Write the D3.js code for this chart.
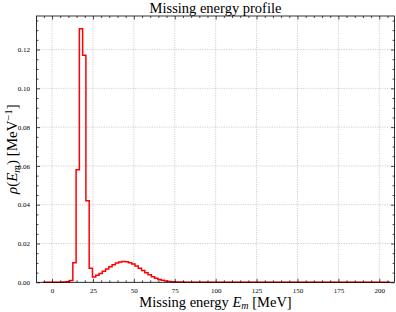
<!DOCTYPE html>
<html><head><meta charset="utf-8">
<script src="https://cdn.jsdelivr.net/npm/d3@7"></script>
<style>
html,body{margin:0;padding:0;background:#fff;}
svg{display:block;font-family:"Liberation Serif","DejaVu Serif",serif;}
</style></head>
<body>
<svg id="chart" width="396" height="312"></svg>
<script>
// ---- data ----
const binStart = -5.3;     // left edge of first bin (MeV)
const binWidth = 2;        // MeV
const density = [
  0, 0, 0, 0, 0, 0, 0.0001, 0.0003, 0.0009, 0.0101,
  0.058, 0.1307, 0.117, 0.042, 0.0073, 0.0027, 0.0036, 0.0046, 0.0057, 0.0069,
  0.0080, 0.0091, 0.0099, 0.0105, 0.0107, 0.0106, 0.0101, 0.0094, 0.0084, 0.0072,
  0.0061, 0.0049, 0.0039, 0.0029, 0.0021, 0.0015, 0.0010, 0.0007, 0.0004, 0.0003,
  0.0002, 0.0001, 0.0001, 0, 0, 0, 0, 0, 0, 0,
  0, 0, 0, 0, 0, 0, 0, 0, 0, 0,
  0, 0, 0, 0, 0, 0, 0, 0, 0, 0,
  0, 0, 0, 0, 0, 0, 0, 0, 0, 0,
  0, 0, 0, 0, 0, 0, 0, 0, 0, 0,
  0, 0, 0, 0, 0, 0, 0, 0, 0, 0,
  0, 0, 0, 0, 0, 0
];
const xTicks = [0, 25, 50, 75, 100, 125, 150, 175, 200];
const yTicks = [0.00, 0.02, 0.04, 0.06, 0.08, 0.10, 0.12];
const xDomain = [-9.5, 209.3];
const yDomain = [0, 0.1373];

// ---- layout ----
const svg = d3.select("#chart");
const L = 36.5, R = 394.5, T = 16, B = 282.3;
const x = d3.scaleLinear().domain(xDomain).range([L, R]);
const y = d3.scaleLinear().domain(yDomain).range([B, T]);

// grid
const grid = svg.append("g");
grid.selectAll("line.gx").data(xTicks).join("line")
  .attr("x1", d => x(d)).attr("x2", d => x(d)).attr("y1", T).attr("y2", B)
  .attr("stroke", "#b0b0b0").attr("stroke-width", 0.6).attr("stroke-dasharray", "1.2,1.2");
grid.selectAll("line.gy").data(yTicks).join("line")
  .attr("y1", d => y(d)).attr("y2", d => y(d)).attr("x1", L).attr("x2", R)
  .attr("stroke", "#b0b0b0").attr("stroke-width", 0.6).attr("stroke-dasharray", "1.2,1.2");

// histogram step outline
const pts = [[binStart, 0]];
density.forEach((v, i) => {
  const x0 = binStart + i * binWidth, x1 = x0 + binWidth;
  pts.push([x0, v]); pts.push([x1, v]);
});
pts.push([binStart + density.length * binWidth, 0]);
const line = d3.line().x(d => x(d[0])).y(d => y(d[1]));
svg.append("path").attr("d", line(pts)).attr("fill", "none")
  .attr("stroke", "#ff0000").attr("stroke-width", 1.5).attr("stroke-linejoin", "miter");

// axes (inward ticks, all four sides)
const xMinor = d3.range(-5, 210, 5).filter(v => v % 25 !== 0);
const yMinor = d3.range(0, 0.1372, 0.005).filter(v => Math.abs(v / 0.02 - Math.round(v / 0.02)) > 1e-6);
function styleAxis(g) {
  g.select(".domain").remove();
  g.selectAll("line").attr("stroke", "#000").attr("stroke-width", 0.7);
  g.selectAll("text").attr("font-size", "7px").attr("fill", "#000")
   .attr("font-family", "Liberation Serif, DejaVu Serif, serif");
}
const fmtX = d3.format("d"), fmtY = d3.format(".2f");
// bottom
svg.append("g").attr("transform", `translate(0,${B})`)
  .call(d3.axisBottom(x).tickValues(xTicks).tickFormat(fmtX).tickSizeInner(-3.5).tickSizeOuter(0).tickPadding(5.5))
  .call(styleAxis);
svg.append("g").attr("transform", `translate(0,${B})`)
  .call(d3.axisBottom(x).tickValues(xMinor).tickFormat("").tickSizeInner(-2).tickSizeOuter(0)).call(styleAxis);
// top
svg.append("g").attr("transform", `translate(0,${T})`)
  .call(d3.axisTop(x).tickValues(xTicks).tickFormat("").tickSizeInner(-3.5).tickSizeOuter(0)).call(styleAxis);
svg.append("g").attr("transform", `translate(0,${T})`)
  .call(d3.axisTop(x).tickValues(xMinor).tickFormat("").tickSizeInner(-2).tickSizeOuter(0)).call(styleAxis);
// left
svg.append("g").attr("transform", `translate(${L},0)`)
  .call(d3.axisLeft(y).tickValues(yTicks).tickFormat(fmtY).tickSizeInner(-3.5).tickSizeOuter(0).tickPadding(6.5))
  .call(styleAxis);
svg.append("g").attr("transform", `translate(${L},0)`)
  .call(d3.axisLeft(y).tickValues(yMinor).tickFormat("").tickSizeInner(-2).tickSizeOuter(0)).call(styleAxis);
// right
svg.append("g").attr("transform", `translate(${R},0)`)
  .call(d3.axisRight(y).tickValues(yTicks).tickFormat("").tickSizeInner(-3.5).tickSizeOuter(0)).call(styleAxis);
svg.append("g").attr("transform", `translate(${R},0)`)
  .call(d3.axisRight(y).tickValues(yMinor).tickFormat("").tickSizeInner(-2).tickSizeOuter(0)).call(styleAxis);

// frame
svg.append("rect").attr("x", L).attr("y", T).attr("width", R - L).attr("height", B - T)
  .attr("fill", "none").attr("stroke", "#000").attr("stroke-width", 0.8);

// title
svg.append("text").attr("x", (L + R) / 2).attr("y", 12.5).attr("text-anchor", "middle")
  .attr("font-size", "14.5px").attr("fill", "#000").text("Missing energy profile");

// x label
const xl = svg.append("text").attr("x", (L + R) / 2).attr("y", 306.5).attr("text-anchor", "middle")
  .attr("font-size", "14.5px").attr("fill", "#000");
xl.append("tspan").text("Missing energy ");
xl.append("tspan").attr("font-style", "italic").text("E");
xl.append("tspan").attr("font-style", "italic").attr("font-size", "10px").attr("dy", 2.5).text("m");
xl.append("tspan").attr("dy", -2.5).text(" [MeV]");

// y label
const yl = svg.append("text").attr("transform", `translate(17,${(T + B) / 2}) rotate(-90)`)
  .attr("text-anchor", "middle").attr("font-size", "15px").attr("fill", "#000");
yl.append("tspan").attr("font-style", "italic").text("ρ");
yl.append("tspan").text("(");
yl.append("tspan").attr("font-style", "italic").text("E");
yl.append("tspan").attr("font-style", "italic").attr("font-size", "10.5px").attr("dy", 2.5).text("m");
yl.append("tspan").attr("dy", -2.5).text(") [MeV");
yl.append("tspan").attr("font-size", "10.5px").attr("dy", -5).text("−1");
yl.append("tspan").attr("dy", 5).text("]");
</script>
</body></html>
